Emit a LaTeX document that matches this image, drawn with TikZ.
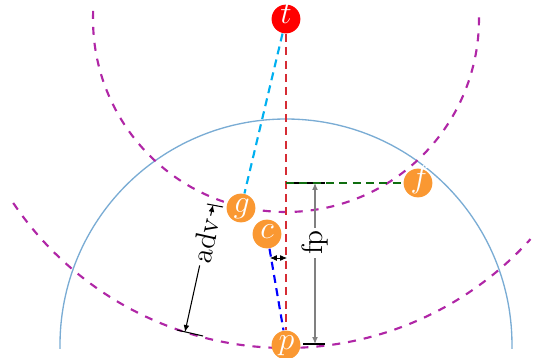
\documentclass[tikz,border=0pt]{standalone}
\usepackage{amsmath,amssymb}
\usepackage{tikz}
\usepackage{xcolor}
\usetikzlibrary{arrows.meta,calc}
\definecolor{pfOrange}{RGB}{250,152,50}
\definecolor{pfRed}{RGB}{214,44,52}
\definecolor{pfPurple}{RGB}{176,38,166}
\definecolor{pfSky}{RGB}{0,176,240}
\definecolor{pfRing}{RGB}{122,172,212}
\definecolor{pfGreen}{RGB}{16,110,16}

\begin{document}
\begin{tikzpicture}[
    x=0.375pt, y=0.375pt,
    agent/.style={circle, fill=pfOrange, text=white, inner sep=0pt, minimum size=10.8pt, font=\large,
      text width=5.5pt, text height=5pt, text depth=1.5pt, align=center},
    goal/.style={agent, fill=red},
    ring/.style={pfPurple, thick, dashed},
    link/.style={thick, dash pattern=on 3pt off 2pt},
    dim/.style={{Latex[length=2.6pt,width=2.2pt]}-{Latex[length=2.6pt,width=2.2pt]}, thin},
    dimlabel/.style={fill=white, inner sep=1pt, text=black, font=\fontsize{11}{13}\selectfont},
    tick/.style={thin, black}
  ]
    \useasboundingbox (-286,-13) rectangle (249,345);
    \draw[pfRing, line width=0.5pt] (0,0) ++(-1:226) arc[start angle=-1, end angle=181, radius=226];
    \draw[ring] (0,326) ++(-182.4:193) arc[start angle=-182.4, end angle=2.4, radius=193];
    \draw[ring] (0,326) ++(214:329) arc[start angle=214, end angle=318, radius=329];
    \node[goal] (t) at (0,326) {$t$};
    \node[agent] (p) at (0,0) {$p$};
    \node[agent] (g) at (-45,137) {$g$};
    \node[agent] (c) at (-19,111) {$c$};
    \node[agent] (f) at (132,162) {$f$};
    \coordinate (fpTop) at (0,162);
    \coordinate (fpHi) at (29,162);
    \coordinate (fpLo) at (29,1);
    \coordinate (advHi) at (-73,140);
    \coordinate (advLo) at (-101,13);
    \coordinate (gapL) at (-16,87);
    \coordinate (gapR) at (1,87);
    \draw[tick] (fpTop) -- (39,162);
    \draw[tick] (17,1) -- (39,1);
    \draw[tick] ($(advHi)+(-6,1)$) -- ($(advHi)+(10,-2)$);
    \draw[tick] ($(advLo)+(-8,2)$) -- ($(advLo)+(18,-4)$);
    \draw[link, pfRed] (t) -- (p);
    \draw[link, pfSky] (t) -- (g);
    \draw[link, blue] (c) -- (p);
    \draw[link, pfGreen] (fpTop) -- (f);
    \draw[dim, draw=black!50] (fpLo) -- node[dimlabel, pos=0.63, rotate=90] {fp} (fpHi);
    \draw[dim] (advLo) -- node[dimlabel, pos=0.72, sloped] {adv} (advHi);
    \draw[dim, line width=0.3pt] (gapL) -- (gapR);
  \end{tikzpicture}
\end{document}
